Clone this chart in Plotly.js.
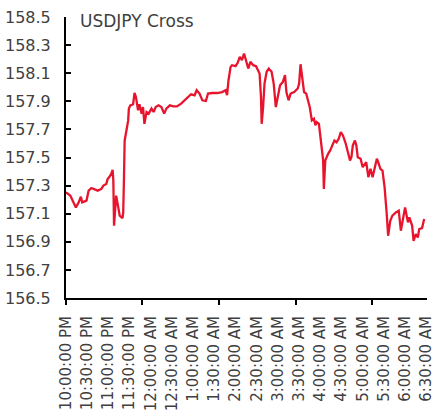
<!DOCTYPE html>
<html>
<head>
<meta charset="utf-8">
<script src="https://cdn.plot.ly/plotly-3.0.1.min.js"></script>
<style>
  html, body { margin: 0; padding: 0; background: #ffffff; }
  #chart { width: 436px; height: 417px; }
</style>
</head>
<body>
<div id="chart"></div>
<script>
// Minutes after 10:00 PM
const minutesAfter10pm = [0,6,14,18,21,23,29,32,36,40,45,50,53,57,59,61,64,66,67,68,70,71,74,76,80,81,82,83,86,88,89,91,95,97,99,102,104,107,109,111,114,117,121,124,127,131,135,139,142,147,152,157,163,168,172,177,182,185,189,193,198,201,207,214,221,226,228,230,233,235,240,243,246,249,252,255,258,261,265,269,272,274,276,277,279,281,284,287,291,294,297,300,303,307,310,312,315,318,323,328,330,332,335,337,340,343,345,348,351,353,355,358,360,362,364,365,367,371,374,377,380,383,386,389,392,396,399,402,404,406,409,411,413,417,420,423,425,428,431,434,437,440,442,445,448,451,454,456,459,462,467,471,474,477,480,484,486,490,492,495,498,500,504,507];

// USDJPY price
const usdjpy = [157.252,157.229,157.145,157.181,157.221,157.181,157.193,157.264,157.283,157.276,157.264,157.276,157.300,157.312,157.348,157.359,157.383,157.412,157.336,157.014,157.217,157.229,157.145,157.086,157.069,157.109,157.336,157.621,157.705,157.764,157.848,157.871,157.879,157.959,157.931,157.836,157.879,157.812,157.859,157.740,157.824,157.812,157.848,157.824,157.859,157.871,157.859,157.812,157.848,157.871,157.864,157.864,157.883,157.907,157.931,157.950,157.943,157.979,157.955,157.907,157.902,157.955,157.959,157.959,157.966,157.979,157.943,158.050,158.145,158.157,158.150,158.174,158.217,158.193,158.240,158.181,158.133,158.181,158.157,158.150,158.121,158.098,157.931,157.740,157.859,158.026,158.110,158.133,158.110,158.026,157.859,157.931,158.014,158.038,158.086,157.966,157.907,157.955,157.966,157.991,158.026,158.164,158.050,157.966,157.955,157.895,157.859,157.764,157.776,157.729,157.752,157.740,157.645,157.550,157.479,157.276,157.479,157.526,157.550,157.586,157.621,157.609,157.633,157.681,157.657,157.598,157.526,157.479,157.502,157.586,157.621,157.586,157.502,157.491,157.431,157.455,157.467,157.360,157.419,157.360,157.419,157.491,157.467,157.419,157.407,157.288,157.098,156.943,157.050,157.086,157.109,157.121,156.979,157.074,157.145,157.038,157.074,157.014,156.907,156.955,156.931,156.991,156.998,157.062];

// Category labels (every 30 minutes)
const labelMinutes = [0,30,60,90,120,150,180,210,240,270,300,330,360,390,420,450,480,510];
const labelTexts = ["10:00:00 PM","10:30:00 PM","11:00:00 PM","11:30:00 PM","12:00:00 AM","12:30:00 AM","1:00:00 AM","1:30:00 AM","2:00:00 AM","2:30:00 AM","3:00:00 AM","3:30:00 AM","4:00:00 AM","4:30:00 AM","5:00:00 AM","5:30:00 AM","6:00:00 AM","6:30:00 AM"];

// Major tick marks on the time axis
const tickMarkMinutes = [0,108,217,325,433];

const yTicks = [156.5,156.7,156.9,157.1,157.3,157.5,157.7,157.9,158.1,158.3,158.5];

const textColor = '#404040';
const fontFamily = '"DejaVu Sans", sans-serif';

const trace = {
  x: minutesAfter10pm,
  y: usdjpy,
  type: 'scatter',
  mode: 'lines',
  line: { color: '#E8142D', width: 2.3 },
  hoverinfo: 'skip'
};

const layout = {
  width: 436,
  height: 417,
  margin: { l: 66, r: 9, t: 17, b: 119 },
  paper_bgcolor: '#ffffff',
  plot_bgcolor: '#ffffff',
  showlegend: false,
  title: {
    text: 'USDJPY Cross',
    font: { family: fontFamily, size: 17, color: textColor },
    x: 80 / 436,
    xanchor: 'left',
    xref: 'container',
    y: 1 - 15 / 417,
    yanchor: 'top',
    yref: 'container'
  },
  xaxis: {
    range: [0, 511],
    showgrid: false,
    zeroline: false,
    showline: true,
    linecolor: '#000000',
    linewidth: 2,
    tickmode: 'array',
    tickvals: labelMinutes,
    ticktext: labelTexts,
    ticks: '',
    tickangle: -90,
    ticklabelstandoff: 10,
    ticklabeloverflow: 'allow',
    tickfont: { family: fontFamily, size: 15, color: textColor },
    minor: {
      tickmode: 'array',
      tickvals: tickMarkMinutes,
      ticks: 'outside',
      ticklen: 5,
      tickwidth: 2,
      tickcolor: '#000000',
      showgrid: false
    },
    fixedrange: true
  },
  yaxis: {
    range: [156.5, 158.5],
    tickmode: 'array',
    tickvals: yTicks,
    ticktext: yTicks.map(v => v.toFixed(1)),
    showgrid: false,
    zeroline: false,
    showline: true,
    linecolor: '#000000',
    linewidth: 2,
    ticks: 'inside',
    ticklen: 5,
    tickwidth: 2,
    tickcolor: '#000000',
    ticklabelstandoff: 10,
    tickfont: { family: fontFamily, size: 16, color: textColor },
    fixedrange: true
  }
};

Plotly.newPlot('chart', [trace], layout, { displayModeBar: false, staticPlot: true });
</script>
</body>
</html>
